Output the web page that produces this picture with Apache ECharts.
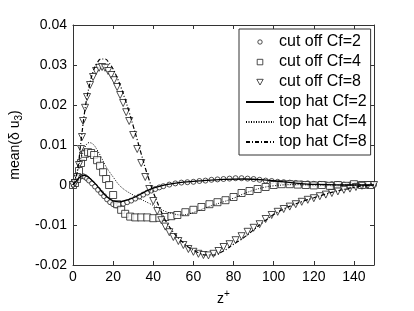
<!DOCTYPE html>
<html><head><meta charset="utf-8">
<script src="https://cdn.jsdelivr.net/npm/echarts@6/dist/echarts.min.js"></script>
<style>html,body{margin:0;padding:0;background:#fff}#c{width:414px;height:311px}</style>
</head><body><div id="c"></div>
<script>
const xTicks = [0,20,40,60,80,100,120,140];
const yTicks = [-0.02,-0.01,0,0.01,0.02,0.03,0.04];

const coZ2 = [0,1,2,3,4,5,6,7,8,9.5,11,12.5,14,15.5,17,18.5,20,21.5,23,25,27,29,31,33,35,37,39,41,43,45,48,51,54,57,60,63,66,69,72,75,78,81,84,87,90,93,96,99,102,105,108,111,114,117,120,123,126,129,132,135,138,141,144,147,150];
const coV2 = [0,0.0005,0.0012,0.0018,0.0022,0.0022,0.002,0.0016,0.0011,0.0004,-0.0004,-0.0012,-0.002,-0.0028,-0.0036,-0.0043,-0.0048,-0.0051,-0.005,-0.0047,-0.0043,-0.0039,-0.0034,-0.0029,-0.0024,-0.0019,-0.0014,-0.001,-0.0006,-0.0003,0.0001,0.0004,0.0006,0.0007,0.0008,0.001,0.0011,0.0013,0.0014,0.0015,0.0016,0.0017,0.0017,0.0016,0.0015,0.0013,0.0011,0.001,0.0008,0.0007,0.0006,0.0005,0.0004,0.0004,0.0003,0.0003,0.0002,0.0002,0.0002,0.0001,0.0001,0.0001,0,0,0];

const coZ4 = [0,1,2,3,4,5,6,7.5,9,10.5,12,13.5,15,16.5,18,20,22,24,26,28.5,31,34,37,40,43,46,49,52,56,60,64,68,72,76,80,84,88,92,96,100,104,108,112,116,120,124,128,132,136,140,144,148];
const coV4 = [0,0.0005,0.0015,0.0035,0.0055,0.007,0.0078,0.0082,0.008,0.0075,0.0062,0.0048,0.0032,0.0015,0,-0.0025,-0.0048,-0.0062,-0.0072,-0.0079,-0.0081,-0.0081,-0.0081,-0.0083,-0.0082,-0.008,-0.0078,-0.0075,-0.0068,-0.0062,-0.0055,-0.0048,-0.0043,-0.0038,-0.003,-0.002,-0.0015,-0.001,-0.0005,0,0.0002,0.0002,0.0001,0,-0.0001,0,-0.0002,0,-0.0002,0.0002,0,0];

const coZ8 = [0,1,2,3,4,4.5,5,6,7,8.5,10,11.5,13,14.5,16,17.5,19,20.5,22,23.5,25,26.5,28,30,32,34,36,38,40,42,44,46,48,50,52.5,55,57.5,60,62.5,65,67.5,70,72.5,75,78,81,84,87,90,93,96,99,102,105,108,111,114,117,120,123,126,129,132,135,138,141,144,147,150];
const coV8 = [0,0.0005,0.002,0.005,0.009,0.012,0.016,0.0193,0.022,0.025,0.027,0.0285,0.0293,0.0295,0.0293,0.0285,0.0275,0.0262,0.0245,0.0225,0.0205,0.0182,0.016,0.0125,0.009,0.0055,0.002,-0.001,-0.004,-0.0065,-0.0088,-0.0104,-0.0118,-0.013,-0.014,-0.015,-0.016,-0.0167,-0.0172,-0.0175,-0.0176,-0.0172,-0.0165,-0.0155,-0.0148,-0.0138,-0.0128,-0.0117,-0.0107,-0.0098,-0.0085,-0.0075,-0.0067,-0.006,-0.0054,-0.0048,-0.0042,-0.0037,-0.0033,-0.0028,-0.0024,-0.002,-0.0016,-0.0012,-0.0009,-0.0005,-0.0002,0,0];

const thZ2 = [0,2,4,5.5,7,9,11,13,15,17,19,21,23,25,28,31,34,37,40,44,48,55,65,75,85,95,105,115,125,135,150];
const thV2 = [0,0.0012,0.0022,0.0024,0.0022,0.0014,0.0004,-0.0008,-0.002,-0.003,-0.0037,-0.0041,-0.0042,-0.004,-0.0036,-0.003,-0.0022,-0.0014,-0.0008,-0.0002,0.0002,0.0007,0.0011,0.0014,0.0015,0.0013,0.0008,0.0003,0.0001,0,0];

const thZ4 = [0,2,4,6,8,10,12,14,16,18,20,23,26,30,34,38,42,46,50,54,58,62,66,70,75,80,85,90,95,100,110,120,130,140,150];
const thV4 = [0,0.003,0.0068,0.0095,0.0106,0.0102,0.0088,0.007,0.005,0.0034,0.002,0,-0.0013,-0.0025,-0.0036,-0.0046,-0.0056,-0.0066,-0.0072,-0.0075,-0.0072,-0.0065,-0.0057,-0.005,-0.0042,-0.0033,-0.0022,-0.0013,-0.0006,-0.0002,0.0001,0,0,0,0];

const thZ8 = [0,2,4,6,8,10,12,14,16,18,20,22,24,26,28,30,32,34,36,38,40,43,46,50,54,58,62,66,70,75,80,85,90,95,100,105,110,115,120,125,130,135,140,145,150];
const thV8 = [0,0.003,0.011,0.019,0.0245,0.0283,0.0305,0.0315,0.0315,0.0305,0.029,0.0268,0.0243,0.0214,0.0182,0.0148,0.0113,0.0078,0.0043,0.0012,-0.0018,-0.0055,-0.0088,-0.0118,-0.014,-0.0157,-0.0168,-0.0175,-0.0175,-0.0165,-0.0148,-0.0132,-0.0112,-0.0092,-0.0074,-0.006,-0.0049,-0.004,-0.0032,-0.0024,-0.0017,-0.0011,-0.0006,-0.0002,0];

const names = ['cut off Cf=2','cut off Cf=4','cut off Cf=8','top hat Cf=2','top hat Cf=4','top hat Cf=8'];
const zip = (a,b) => a.map((x,i)=>[x,b[i]]);
const FONT = 'Liberation Sans, Arial, sans-serif';
const INK = '#000';

const chart = echarts.init(document.getElementById('c'), null, {renderer:'canvas'});
const axisCommon = {
  axisLine:{show:true, onZero:false, lineStyle:{color:'#333', width:1}},
  axisTick:{show:true, inside:true, length:4, lineStyle:{color:'#333'}},
  splitLine:{show:false}
};
const scatterStyle = {color:'#fff', borderColor:'#222', borderWidth:1};
const legSym = {color:'#fff', borderColor:'#222', borderWidth:1};
const hideSym = {opacity:0};
// legend icons: invisible corner moves keep a 28x7 box so the marker keeps its size
const iconCircle = 'path://M0,0 M28,7 M11.8,3.5 A2.2,2.2 0 1,1 16.2,3.5 A2.2,2.2 0 1,1 11.8,3.5 Z';
const iconRect = 'path://M0,0 M28,7 M11.2,0.8 L16.8,0.8 L16.8,6.3 L11.2,6.3 Z';
const iconTri = 'path://M0,0 M28,7 M10.8,0.8 L17.2,0.8 L14,6.5 Z';
chart.setOption({
  animation:false,
  backgroundColor:'#fff',
  grid:{left:73, right:40, top:25, bottom:44, containLabel:false},
  xAxis:[
    Object.assign({type:'value', min:0, max:150, interval:20, position:'bottom',
      axisLabel:{color:INK, fontSize:14, fontFamily:FONT, margin:5},
      name:'{a|z}{s|+}', nameLocation:'middle', nameGap:24,
      nameTextStyle:{rich:{a:{fontSize:14, fontFamily:FONT, color:INK}, s:{fontSize:10, fontFamily:FONT, color:INK, padding:[0,0,10,0]}}}
    }, axisCommon),
    Object.assign({type:'value', min:0, max:150, interval:20, position:'top', axisLabel:{show:false}}, axisCommon)
  ],
  yAxis:[
    Object.assign({type:'value', min:-0.02, max:0.04, interval:0.01, position:'left',
      axisLabel:{color:INK, fontSize:14, fontFamily:FONT, margin:6, formatter:v=>String(Math.round(v*100)/100)},
      name:'{a|mean(δ u}{s|3}{a|)}', nameLocation:'middle', nameGap:40, nameRotate:90,
      nameTextStyle:{rich:{a:{fontSize:14, fontFamily:FONT, color:INK}, s:{fontSize:10, fontFamily:FONT, color:INK, padding:[8,0,0,0]}}}
    }, axisCommon),
    Object.assign({type:'value', min:-0.02, max:0.04, interval:0.01, position:'right', axisLabel:{show:false}}, axisCommon)
  ],
  legend:{
    orient:'vertical', left:239, top:29,
    backgroundColor:'#fff', borderColor:'#333', borderWidth:1,
    padding:[5,4,5,6], itemGap:4, itemWidth:28, itemHeight:7,
    textStyle:{color:INK, fontSize:16, fontFamily:FONT, lineHeight:16},
    data:[
      {name:names[0], icon:iconCircle, itemStyle:legSym},
      {name:names[1], icon:iconRect, itemStyle:legSym},
      {name:names[2], icon:iconTri, itemStyle:legSym},
      {name:names[3], itemStyle:hideSym},
      {name:names[4], itemStyle:hideSym},
      {name:names[5], itemStyle:hideSym}
    ]
  },
  series:[
    {name:names[0], type:'scatter', data:zip(coZ2,coV2), symbol:'circle', symbolSize:5, itemStyle:scatterStyle, z:3},
    {name:names[1], type:'scatter', data:zip(coZ4,coV4), symbol:'rect', symbolSize:7, itemStyle:scatterStyle, z:3},
    {name:names[2], type:'scatter', data:zip(coZ8,coV8), symbol:'triangle', symbolRotate:180, symbolSize:7, itemStyle:scatterStyle, z:3},
    {name:names[3], type:'line', data:zip(thZ2,thV2), smooth:0.4, symbol:'none', lineStyle:{color:'#000', width:1.3, type:'solid'}, itemStyle:{color:'#000'}, z:4},
    {name:names[4], type:'line', data:zip(thZ4,thV4), smooth:0.4, symbol:'none', lineStyle:{color:'#000', width:1, type:[1,1.5]}, itemStyle:{color:'#000'}, z:4},
    {name:names[5], type:'line', data:zip(thZ8,thV8), smooth:0.4, symbol:'none', lineStyle:{color:'#000', width:1.2, type:[4,2,1,2]}, itemStyle:{color:'#000'}, z:4}
  ]
});
</script></body></html>
